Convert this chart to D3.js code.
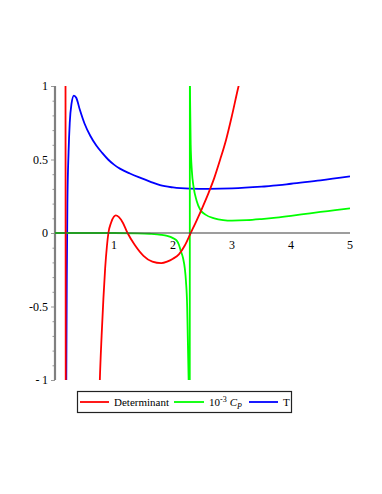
<!DOCTYPE html>
<html>
<head>
<meta charset="utf-8">
<script src="https://cdn.jsdelivr.net/npm/d3@7"></script>
<style>
  body { margin: 0; background: #fff; }
  text { font-family: "Liberation Serif", "DejaVu Serif", serif; }
</style>
</head>
<body>
<script>
// values (null = break in the curve)
const detX = [0.178, 0.182, null, 0.74, 0.76, 0.79, 0.82, 0.85, 0.88, 0.905, 0.95, 1.0, 1.03, 1.08, 1.15, 1.23, 1.35, 1.5, 1.65, 1.8, 1.9, 2.0, 2.1, 2.2, 2.3, 2.4, 2.5, 2.6, 2.7, 2.8, 2.9, 3.0, 3.1, 3.13, 3.2];
const detY = [1.1, -1.1, null, -1.3, -1.0, -0.7, -0.45, -0.24, -0.09, 0, 0.07, 0.112, 0.12, 0.11, 0.07, 0, -0.08, -0.155, -0.195, -0.205, -0.195, -0.175, -0.145, -0.085, 0, 0.085, 0.175, 0.27, 0.375, 0.5, 0.635, 0.8, 0.98, 1.03, 1.15];

const cpX = [0, 1.0, 1.4, 1.6, 1.8, 1.9, 2.0, 2.06, 2.1, 2.13, 2.17, 2.2, 2.22, 2.24, 2.25, 2.265, 2.27, 2.284, 2.286, 2.29, 2.3, 2.32, 2.35, 2.4, 2.46, 2.55, 2.7, 2.85, 3.0, 3.25, 3.5, 3.75, 4.0, 4.25, 4.5, 4.75, 5.0];
const cpY = [0, 0, -0.002, -0.005, -0.012, -0.02, -0.035, -0.05, -0.08, -0.12, -0.17, -0.24, -0.33, -0.5, -0.7, -1.0, -1.1, -1.1, 1.1, 0.9, 0.6, 0.42, 0.31, 0.22, 0.16, 0.125, 0.1, 0.088, 0.084, 0.087, 0.095, 0.105, 0.117, 0.13, 0.143, 0.155, 0.168];

const tX = [0.19, 0.2, 0.21, 0.23, 0.25, 0.28, 0.32, 0.36, 0.42, 0.5, 0.6, 0.7, 0.8, 0.9, 1.0, 1.1, 1.27, 1.45, 1.61, 1.78, 2.0, 2.29, 2.6, 3.0, 3.5, 3.8, 4.0, 4.5, 5.0];
const tY = [-1.1, -0.3, 0.2, 0.55, 0.75, 0.88, 0.935, 0.92, 0.84, 0.745, 0.66, 0.595, 0.545, 0.5, 0.465, 0.438, 0.405, 0.375, 0.35, 0.325, 0.31, 0.302, 0.3, 0.303, 0.315, 0.325, 0.335, 0.358, 0.385];

const xTicks = [1, 2, 3, 4, 5];
const yTicks = [-1, -0.5, 0, 0.5, 1];
const yLabels = ["-\u20091", "-0.5", "0", "0.5", "1"];

const W = 382, H = 494;
const x = d3.scaleLinear().domain([0, 5]).range([55, 350]);
const y = d3.scaleLinear().domain([-1, 1]).range([380, 86]);

const svg = d3.select("body").append("svg")
  .attr("width", W)
  .attr("height", H);

svg.append("clipPath").attr("id", "plot")
  .append("rect")
  .attr("x", x(0)).attr("y", y(1))
  .attr("width", x(5) - x(0)).attr("height", y(-1) - y(1));

// y axis with minor ticks every 0.1
const yAxis = d3.axisLeft(y)
  .tickValues(d3.range(-10, 11).map(d => d / 10))
  .tickSize(0)
  .tickFormat("");
const gy = svg.append("g").attr("transform", `translate(${x(0)},0)`).call(yAxis);
gy.select(".domain").remove();
gy.selectAll(".tick line")
  .attr("x2", (d) => Math.abs(d * 2 - Math.round(d * 2)) < 1e-6 ? -4 : -2.5)
  .attr("stroke", "#999");

svg.append("line")
  .attr("x1", x(0)).attr("x2", x(0))
  .attr("y1", y(1)).attr("y2", y(-1))
  .attr("stroke", "#808080")
  .attr("stroke-width", 2.2);

yTicks.forEach((v, i) => {
  svg.append("text")
    .attr("x", x(0) - 7)
    .attr("y", y(v))
    .attr("dy", "0.35em")
    .attr("text-anchor", "end")
    .attr("font-size", 12)
    .text(yLabels[i]);
});

xTicks.forEach((v) => {
  svg.append("text")
    .attr("x", x(v))
    .attr("y", y(0) + 16)
    .attr("text-anchor", "middle")
    .attr("font-size", 12)
    .text(v);
});

// curves
function toPoints(xs, ys) {
  return xs.map((d, i) => ({ x: d, y: ys[i] }));
}
const line = d3.line()
  .defined(d => d.x != null && d.y != null)
  .x(d => x(d.x))
  .y(d => y(d.y))
  .curve(d3.curveMonotoneX);

const plot = svg.append("g").attr("clip-path", "url(#plot)");

const series = [
  { name: "T", color: "#0000ff", pts: toPoints(tX, tY) },
  { name: "Cp", color: "#00ff00", pts: toPoints(cpX, cpY) },
  { name: "Determinant", color: "#ff0000", pts: toPoints(detX, detY) }
];

series.forEach((s) => {
  plot.append("path")
    .datum(s.pts)
    .attr("d", line)
    .attr("fill", "none")
    .attr("stroke", s.color)
    .attr("stroke-width", 1.8);
});

// x axis drawn over the curves (gives the dark green look where Cp sits on it)
svg.append("line")
  .attr("x1", x(0)).attr("x2", x(5))
  .attr("y1", y(0)).attr("y2", y(0))
  .attr("stroke", "#444")
  .attr("stroke-opacity", 0.7)
  .attr("stroke-width", 1.3);

// Legend
const lg = svg.append("g");
lg.append("rect")
  .attr("x", 77.5).attr("y", 391.5)
  .attr("width", 214).attr("height", 21)
  .attr("fill", "#fff")
  .attr("stroke", "#222")
  .attr("stroke-width", 1.2);

const ly = 402;
const items = [
  { color: "#ff0000", x1: 80, x2: 109, tx: 114 },
  { color: "#00ff00", x1: 174, x2: 204, tx: 209 },
  { color: "#0000ff", x1: 249, x2: 278, tx: 283 }
];
items.forEach((it) => {
  lg.append("line")
    .attr("x1", it.x1).attr("x2", it.x2)
    .attr("y1", ly).attr("y2", ly)
    .attr("stroke", it.color)
    .attr("stroke-width", 1.8);
});

lg.append("text").attr("x", items[0].tx).attr("y", ly + 4)
  .attr("font-size", 11).text("Determinant");

const cpLabel = lg.append("text").attr("x", items[1].tx).attr("y", ly + 4)
  .attr("font-size", 11);
cpLabel.append("tspan").text("10");
cpLabel.append("tspan").attr("dy", -4).attr("font-size", 8).text("-3");
cpLabel.append("tspan").attr("dy", 4).attr("dx", 3).attr("font-style", "italic").text("C");
cpLabel.append("tspan").attr("dy", 3).attr("font-size", 8).attr("font-style", "italic").text("P");

lg.append("text").attr("x", items[2].tx).attr("y", ly + 4)
  .attr("font-size", 11).text("T");
</script>
</body>
</html>
